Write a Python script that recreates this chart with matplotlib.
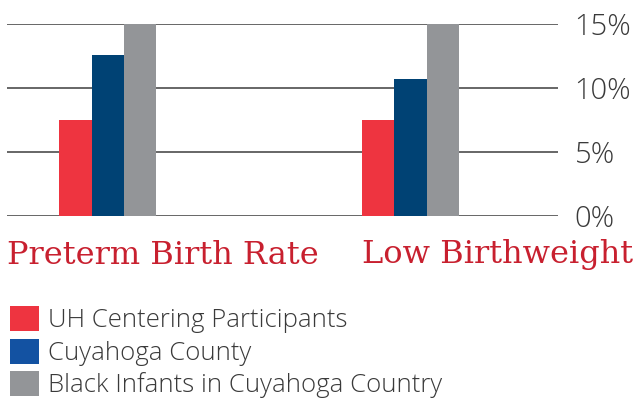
import matplotlib.pyplot as plt
from matplotlib.patches import Patch

# data
categories = ['Preterm Birth Rate', 'Low Birthweight']
series = ['UH Centering Participants', 'Cuyahoga County', 'Black Infants in Cuyahoga Country']
uh_centering = [7.5, 7.5]
cuyahoga = [12.6, 10.7]
black_infants = [15.0, 15.0]
yticks = [0, 5, 10, 15]

bar_colors = ['#ee3440', '#004274', '#939598']
legend_colors = ['#ee3440', '#1352a2', '#939598']
text_red = '#c8202f'

fig = plt.figure(figsize=(6.39, 4.03), dpi=100)
ax = fig.add_axes([7 / 639, 1 - 216 / 403, 551 / 639, 192 / 403])

w = 0.106
xs = range(len(categories))
for k, vals in enumerate([uh_centering, cuyahoga, black_infants]):
    ax.bar([x + (k - 1) * w for x in xs], vals, width=w, color=bar_colors[k],
           zorder=3, linewidth=0)

ax.set_xlim(-0.332, 1.487)
ax.set_ylim(0, 15)
ax.set_yticks(yticks)
ax.set_yticklabels([f'{t}%' for t in yticks], fontsize=21, color='#3a3a3a',
                   fontfamily='Open Sans', fontweight='light')
ax.yaxis.tick_right()
ax.tick_params(axis='y', length=0, pad=12)
ax.set_xticks([])
for s in ax.spines.values():
    s.set_visible(False)
ax.grid(axis='y', color='#5a5a5a', linewidth=1.3, zorder=0)
ax.set_axisbelow(True)
for lab in ax.get_yticklabels():
    lab.set_horizontalalignment('left')

# category labels
fig.text(7 / 639, 1 - 255 / 403, categories[0], color=text_red, fontsize=23,
         fontfamily='DejaVu Serif', va='center', ha='left')
fig.text(362 / 639, 1 - 255 / 403, categories[1], color=text_red, fontsize=23,
         fontfamily='DejaVu Serif', va='center', ha='left')

handles = [Patch(facecolor=c, edgecolor='none') for c in legend_colors]
leg = fig.legend(handles, series, loc='upper left', bbox_to_anchor=(10 / 639, 1 - 306 / 403),
                 frameon=False, prop={'family': 'Open Sans', 'weight': 'light', 'size': 18.5},
                 handlelength=1.12, handleheight=1.12, handletextpad=0.37,
                 labelspacing=0.21, borderpad=0, borderaxespad=0)
for t in leg.get_texts():
    t.set_color('#3a3a3a')

fig.savefig('out.png', dpi=100)
